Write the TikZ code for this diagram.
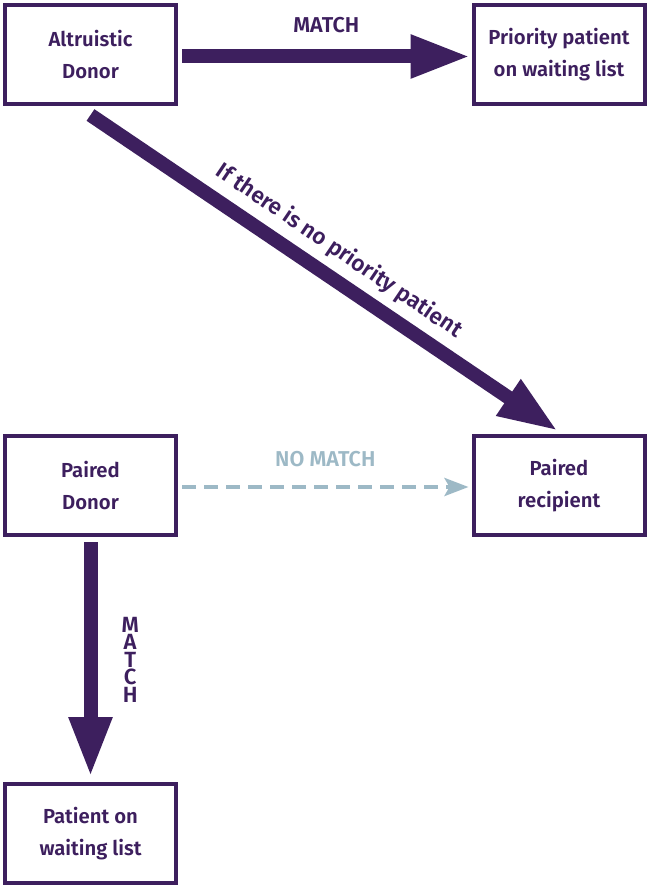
\documentclass[tikz,border=0pt]{standalone}
\usepackage{fontspec}
\setmainfont{Fira Sans SemiBold}
\usetikzlibrary{arrows.meta}
\definecolor{purp}{HTML}{3D1F5E}
\definecolor{lblue}{HTML}{9DB9C6}
\begin{document}
\begin{tikzpicture}[x=1pt,y=-1pt,
  box/.style={draw=purp, line width=4pt, minimum width=171pt, minimum height=99pt,
    align=center, text=purp, font=\fontsize{20.3}{32}\selectfont, inner sep=0pt},
  bigarrow/.style={draw=purp, line width=14pt, -{Triangle[length=60pt,width=40pt]}},
  dasharrow/.style={draw=lblue, line width=4pt, dash pattern=on 14pt off 8pt,
    -{Stealth[length=24pt,width=18pt,inset=5pt]}},
  lbl/.style={text=purp, inner sep=0pt, font=\fontsize{21.5}{21.5}\selectfont},
  llbl/.style={text=lblue, inner sep=0pt, font=\fontsize{21.5}{21.5}\selectfont}
]
\useasboundingbox (0,0) rectangle (652,885);
\fill[white] (0,0) rectangle (652,885);

\node[box] (ad) at (90.5,54.5) {Altruistic\\Donor};
\node[box] (pp) at (559,54.5) {Priority patient\\on waiting list};
\node[box] (pd) at (90.5,485.5) {Paired\\Donor};
\node[box] (pr) at (559,485.5) {Paired\\recipient};
\node[box] (pw) at (90.5,833.5) {Patient on\\waiting list};

\draw[bigarrow] ([xshift=4pt,yshift=-2pt]ad.east) -- ([xshift=-1pt,yshift=-2pt]pp.west)
  node[lbl, midway, yshift=31pt] {MATCH};

\draw[bigarrow] ([yshift=-9pt]ad.south) -- ([xshift=-1pt,yshift=3pt]pr.north)
  node[lbl, midway, sloped, above=8pt, font=\fontsize{22.5}{22.5}\selectfont] {If there is no priority patient};

\draw[dasharrow] ([xshift=4pt,yshift=-1.5pt]pd.east) -- ([xshift=-3pt,yshift=-1.5pt]pr.west)
  node[llbl, midway, yshift=28pt] {NO MATCH};

\draw[bigarrow] ([yshift=-5pt]pd.south) -- ([yshift=5pt]pw.north)
  node[lbl, midway, right=24pt, align=center, font=\fontsize{22}{17.5}\selectfont] {M\\A\\T\\C\\H};
\end{tikzpicture}
\end{document}
